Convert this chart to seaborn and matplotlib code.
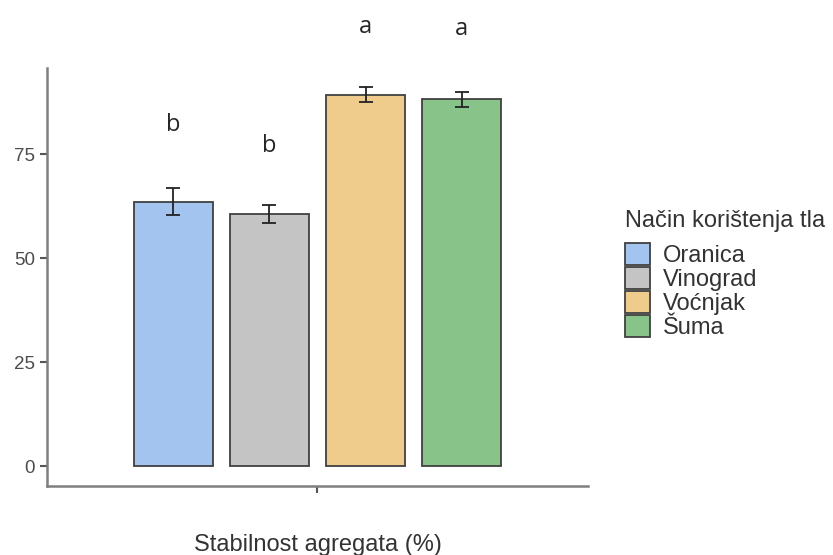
import matplotlib.pyplot as plt
import seaborn as sns
import pandas as pd

land_use = ['Oranica', 'Vinograd', 'Voćnjak', 'Šuma']
stability = [63.6, 60.6, 89.3, 88.3]
err_low = [60.3, 58.4, 87.7, 86.5]
err_high = [66.8, 62.8, 91.1, 90.1]
letters = ['b', 'b', 'a', 'a']
letter_y = [80.6, 75.6, 104.1, 103.6]
colors = ['#a4c4f0', '#c4c4c4', '#f0cc8c', '#88c48a']

df = pd.DataFrame({'x': [''] * 4, 'Način korištenja tla': land_use, 'value': stability})

sns.set_style('white')
plt.rcParams['font.family'] = ['Liberation Sans', 'DejaVu Sans']

fig = plt.figure(figsize=(8.33, 5.55), dpi=100)
ax = fig.add_axes([0.0564, 0.124, 0.6495, 0.753])

sns.barplot(data=df, x='x', y='value', hue='Način korištenja tla', palette=colors,
            saturation=1, width=0.71, gap=0.18, errorbar=None,
            edgecolor='#404040', linewidth=1.3, ax=ax)

# error bars and letters at the bar centres seaborn chose
bar_containers = list(ax.containers)
for i, cont in enumerate(bar_containers):
    bar = cont.patches[0]
    cx = bar.get_x() + bar.get_width() / 2
    ax.errorbar(cx, stability[i],
                yerr=[[stability[i] - err_low[i]], [err_high[i] - stability[i]]],
                color='#222222', capsize=5, elinewidth=1.3, capthick=1.3)
    ax.text(cx, letter_y[i], letters[i], ha='center', va='baseline', fontsize=17,
            family=['Open Sans', 'DejaVu Sans'], clip_on=False)

ax.set_ylim(-4.8, 95.7)
ax.set_xlim(-0.5, 0.5)
ax.set_yticks([0, 25, 50, 75])
ax.set_ylabel('')
ax.set_xlabel('Stabilnost agregata (%)', fontsize=17, color='#333333', labelpad=26)
ax.tick_params(axis='both', colors='#555555', labelsize=13.5, length=5, width=1.5, left=True, bottom=True)
ax.tick_params(axis='y', labelcolor='#4d4d4d')
sns.despine(ax=ax)
for s in ['left', 'bottom']:
    ax.spines[s].set_color('#7f7f7f')
    ax.spines[s].set_linewidth(1.8)

handles, labels = ax.get_legend_handles_labels()
leg = ax.legend(handles, labels, title='Način korištenja tla', loc='upper left',
                bbox_to_anchor=(1.068, 0.66), frameon=False, fontsize=17, title_fontsize=17,
                handlelength=1.05, handleheight=1.05, labelspacing=0.0, handletextpad=0.55,
                borderaxespad=0, borderpad=0)
leg._legend_box.align = 'left'
leg._legend_box.sep = 8
for t in leg.get_texts():
    t.set_color('#333333')
leg.get_title().set_color('#333333')

plt.savefig('out.png')
plt.close()
